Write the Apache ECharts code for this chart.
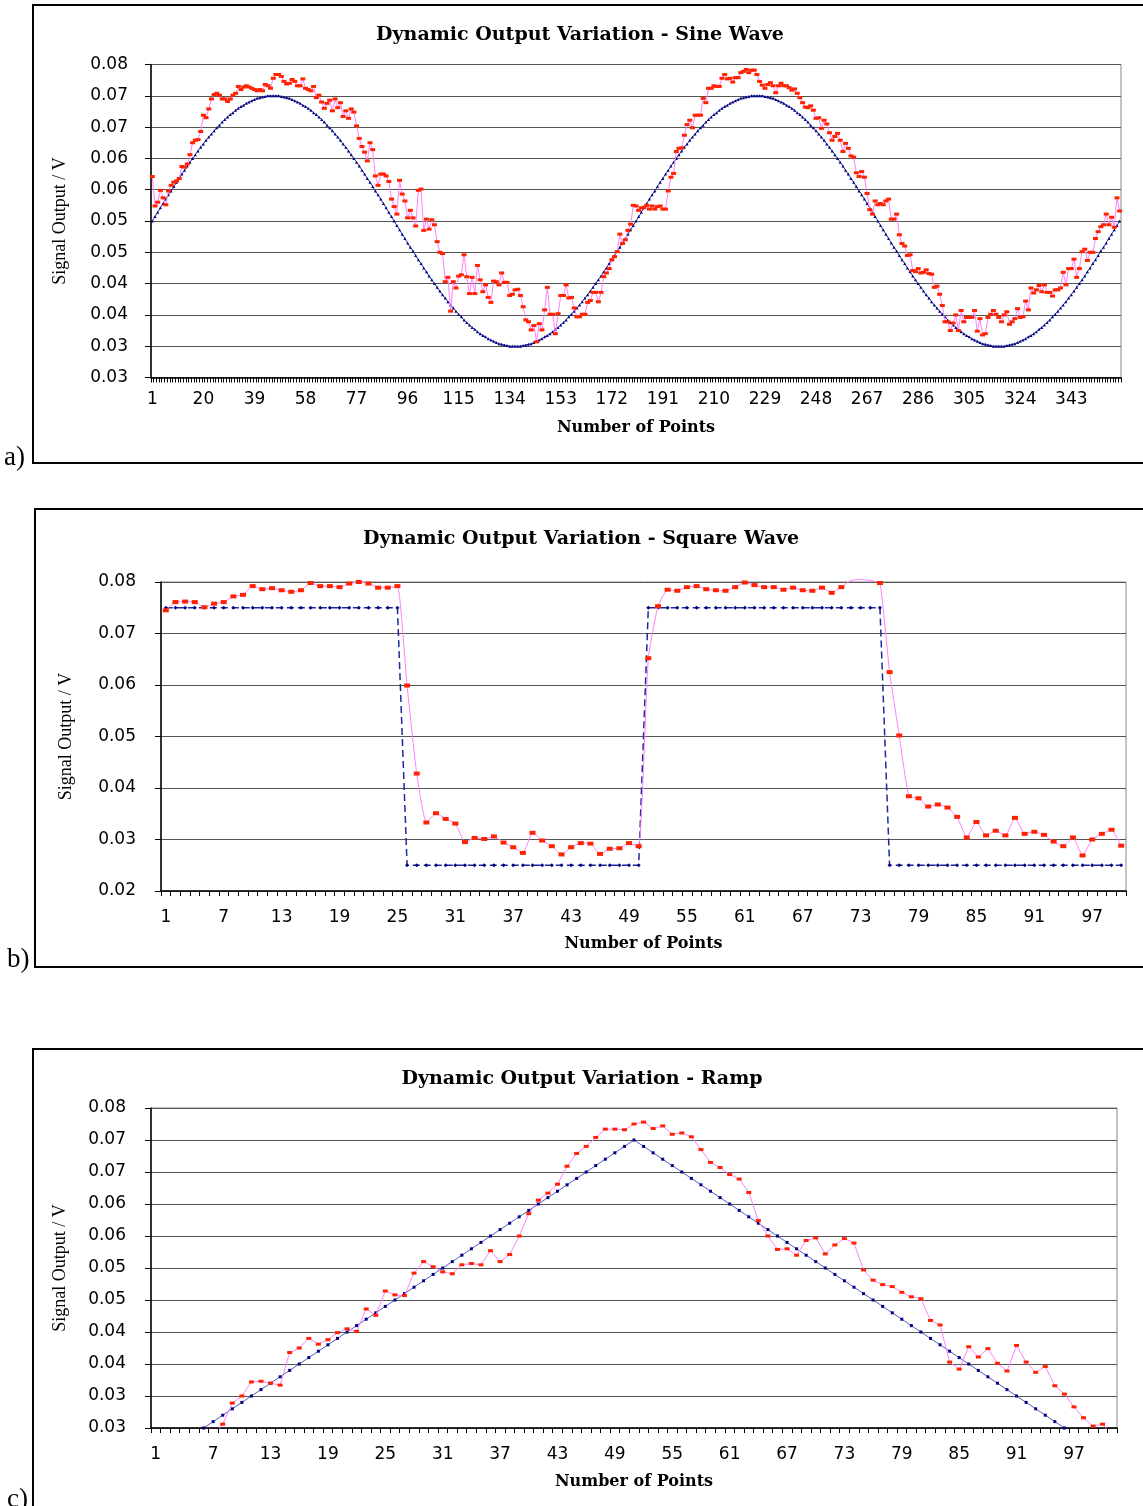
<!DOCTYPE html>
<html><head><meta charset="utf-8">
<script src="https://cdn.jsdelivr.net/npm/echarts@6/dist/echarts.min.js"></script>
<style>html,body{margin:0;padding:0;background:#fff}#c{width:1143px;height:1506px}</style>
</head><body><div id="c"></div>
<script>
// ---------- Chart a: sine wave (361 points) ----------
const sineReference = [
0.0500,0.0507,0.0514,0.0521,0.0528,0.0535,0.0542,0.0548,0.0555,0.0562,
0.0568,0.0575,0.0581,0.0588,0.0594,0.0600,0.0606,0.0612,0.0618,0.0623,
0.0629,0.0634,0.0639,0.0644,0.0649,0.0653,0.0658,0.0662,0.0666,0.0670,
0.0673,0.0677,0.0680,0.0683,0.0685,0.0688,0.0690,0.0692,0.0694,0.0696,
0.0697,0.0698,0.0699,0.0700,0.0700,0.0700,
0.0700,0.0700,0.0699,0.0698,0.0697,0.0696,0.0694,0.0692,0.0690,0.0688,
0.0685,0.0683,0.0680,0.0677,0.0673,0.0670,0.0666,0.0662,0.0658,0.0653,
0.0649,0.0644,0.0639,0.0634,0.0629,0.0623,0.0618,0.0612,0.0606,0.0600,
0.0594,0.0588,0.0581,0.0575,0.0568,0.0562,0.0555,0.0548,0.0542,0.0535,
0.0528,0.0521,0.0514,0.0507,
0.0500,0.0493,0.0486,0.0479,0.0472,0.0465,0.0458,0.0452,0.0445,0.0438,
0.0432,0.0425,0.0419,0.0412,0.0406,0.0400,0.0394,0.0388,0.0382,0.0377,
0.0371,0.0366,0.0361,0.0356,0.0351,0.0347,0.0342,0.0338,0.0334,0.0330,
0.0327,0.0323,0.0320,0.0317,0.0315,0.0312,0.0310,0.0308,0.0306,0.0304,
0.0303,0.0302,0.0301,0.0300,0.0300,0.0300,
0.0300,0.0300,0.0301,0.0302,0.0303,0.0304,0.0306,0.0308,0.0310,0.0312,
0.0315,0.0317,0.0320,0.0323,0.0327,0.0330,0.0334,0.0338,0.0342,0.0347,
0.0351,0.0356,0.0361,0.0366,0.0371,0.0377,0.0382,0.0388,0.0394,0.0400,
0.0406,0.0412,0.0419,0.0425,0.0432,0.0438,0.0445,0.0452,0.0458,0.0465,
0.0472,0.0479,0.0486,0.0493,
0.0500,0.0507,0.0514,0.0521,0.0528,0.0535,0.0542,0.0548,0.0555,0.0562,
0.0568,0.0575,0.0581,0.0588,0.0594,0.0600,0.0606,0.0612,0.0618,0.0623,
0.0629,0.0634,0.0639,0.0644,0.0649,0.0653,0.0658,0.0662,0.0666,0.0670,
0.0673,0.0677,0.0680,0.0683,0.0685,0.0688,0.0690,0.0692,0.0694,0.0696,
0.0697,0.0698,0.0699,0.0700,0.0700,0.0700,
0.0700,0.0700,0.0699,0.0698,0.0697,0.0696,0.0694,0.0692,0.0690,0.0688,
0.0685,0.0683,0.0680,0.0677,0.0673,0.0670,0.0666,0.0662,0.0658,0.0653,
0.0649,0.0644,0.0639,0.0634,0.0629,0.0623,0.0618,0.0612,0.0606,0.0600,
0.0594,0.0588,0.0581,0.0575,0.0568,0.0562,0.0555,0.0548,0.0542,0.0535,
0.0528,0.0521,0.0514,0.0507,
0.0500,0.0493,0.0486,0.0479,0.0472,0.0465,0.0458,0.0452,0.0445,0.0438,
0.0432,0.0425,0.0419,0.0412,0.0406,0.0400,0.0394,0.0388,0.0382,0.0377,
0.0371,0.0366,0.0361,0.0356,0.0351,0.0347,0.0342,0.0338,0.0334,0.0330,
0.0327,0.0323,0.0320,0.0317,0.0315,0.0312,0.0310,0.0308,0.0306,0.0304,
0.0303,0.0302,0.0301,0.0300,0.0300,0.0300,
0.0300,0.0300,0.0301,0.0302,0.0303,0.0304,0.0306,0.0308,0.0310,0.0312,
0.0315,0.0317,0.0320,0.0323,0.0327,0.0330,0.0334,0.0338,0.0342,0.0347,
0.0351,0.0356,0.0361,0.0366,0.0371,0.0377,0.0382,0.0388,0.0394,0.0400,
0.0406,0.0412,0.0419,0.0425,0.0432,0.0438,0.0445,0.0452,0.0458,0.0465,
0.0472,0.0479,0.0486,0.0493,
0.0500
];
const sineMeasured = [
0.0571,0.0524,0.0530,0.0549,0.0537,0.0526,0.0548,0.0557,0.0562,0.0564,
0.0568,0.0587,0.0586,0.0591,0.0606,0.0625,0.0629,0.0630,0.0643,0.0669,
0.0665,0.0679,0.0695,0.0702,0.0704,0.0701,0.0695,0.0695,0.0691,0.0695,
0.0701,0.0704,0.0715,0.0710,0.0714,0.0716,0.0714,0.0712,0.0710,0.0708,
0.0710,0.0708,0.0718,0.0716,0.0712,0.0728,0.0734,0.0734,0.0731,0.0723,
0.0719,0.0720,0.0726,0.0723,0.0716,0.0716,0.0727,0.0712,0.0710,0.0708,
0.0715,0.0697,0.0701,0.0690,0.0680,0.0688,0.0693,0.0676,0.0695,0.0681,
0.0689,0.0667,0.0676,0.0664,0.0679,0.0674,0.0652,0.0632,0.0619,0.0610,
0.0596,0.0625,0.0614,0.0572,0.0557,0.0575,0.0575,0.0572,0.0563,0.0535,
0.0523,0.0511,0.0565,0.0543,0.0532,0.0505,0.0517,0.0505,0.0492,0.0549,
0.0551,0.0485,0.0503,0.0487,0.0502,0.0494,0.0467,0.0450,0.0448,0.0403,
0.0410,0.0356,0.0403,0.0393,0.0412,0.0414,0.0446,0.0411,0.0384,0.0410,
0.0384,0.0429,0.0406,0.0387,0.0398,0.0378,0.0370,0.0404,0.0403,0.0398,
0.0417,0.0402,0.0402,0.0381,0.0383,0.0390,0.0391,0.0381,0.0363,0.0342,
0.0339,0.0326,0.0333,0.0307,0.0336,0.0326,0.0358,0.0394,0.0351,0.0351,
0.0320,0.0352,0.0381,0.0381,0.0398,0.0377,0.0378,0.0361,0.0347,0.0347,
0.0351,0.0351,0.0370,0.0373,0.0386,0.0386,0.0371,0.0386,0.0411,0.0417,
0.0424,0.0438,0.0443,0.0451,0.0479,0.0464,0.0470,0.0485,0.0495,0.0525,
0.0524,0.0517,0.0521,0.0522,0.0525,0.0519,0.0524,0.0519,0.0523,0.0524,
0.0519,0.0519,0.0548,0.0570,0.0576,0.0611,0.0616,0.0617,0.0637,0.0654,
0.0661,0.0649,0.0669,0.0669,0.0669,0.0696,0.0689,0.0712,0.0712,0.0716,
0.0715,0.0715,0.0728,0.0734,0.0727,0.0728,0.0722,0.0729,0.0729,0.0737,
0.0739,0.0742,0.0737,0.0741,0.0741,0.0734,0.0723,0.0717,0.0712,0.0718,
0.0721,0.0716,0.0705,0.0716,0.0720,0.0716,0.0716,0.0713,0.0709,0.0711,
0.0704,0.0697,0.0689,0.0682,0.0681,0.0684,
0.0677,0.0664,0.0665,0.0648,0.0661,0.0655,0.0641,0.0629,0.0635,0.0640,
0.0629,0.0611,0.0624,0.0616,0.0604,0.0602,0.0577,0.0571,0.0579,0.0570,
0.0544,0.0518,0.0511,0.0532,0.0526,0.0528,0.0526,0.0532,0.0535,0.0503,
0.0503,0.0511,0.0478,0.0464,0.0460,0.0445,0.0446,0.0421,0.0419,0.0424,
0.0417,0.0418,0.0422,0.0416,0.0415,0.0394,0.0396,0.0383,0.0365,0.0339,
0.0339,0.0325,0.0337,0.0350,0.0325,0.0357,0.0339,0.0346,0.0346,0.0346,
0.0357,0.0324,0.0344,0.0318,0.0320,0.0346,0.0351,0.0357,0.0351,0.0346,
0.0339,0.0350,0.0355,0.0335,0.0339,0.0344,0.0360,0.0346,0.0347,0.0372,
0.0358,0.0393,0.0385,0.0390,0.0397,0.0387,0.0398,0.0386,0.0386,0.0380,
0.0390,0.0390,0.0393,0.0418,0.0398,0.0424,0.0424,0.0439,0.0410,0.0424,
0.0451,0.0455,0.0437,0.0450,0.0450,0.0472,0.0483,0.0491,0.0494,0.0511,
0.0494,0.0506,0.0490,0.0537,0.0516
];

// ---------- Chart b: square wave (100 points) ----------
const squareReference = [
0.075,0.075,0.075,0.075,0.075,0.075,0.075,0.075,0.075,0.075,
0.075,0.075,0.075,0.075,0.075,0.075,0.075,0.075,0.075,0.075,
0.075,0.075,0.075,0.075,0.075,
0.025,0.025,0.025,0.025,0.025,0.025,0.025,0.025,0.025,0.025,
0.025,0.025,0.025,0.025,0.025,0.025,0.025,0.025,0.025,0.025,
0.025,0.025,0.025,0.025,0.025,
0.075,0.075,0.075,0.075,0.075,0.075,0.075,0.075,0.075,0.075,
0.075,0.075,0.075,0.075,0.075,0.075,0.075,0.075,0.075,0.075,
0.075,0.075,0.075,0.075,0.075,
0.025,0.025,0.025,0.025,0.025,0.025,0.025,0.025,0.025,0.025,
0.025,0.025,0.025,0.025,0.025,0.025,0.025,0.025,0.025,0.025,
0.025,0.025,0.025,0.025,0.025
];
const squareMeasured = [
0.0745,0.0761,0.0762,0.0761,0.0751,0.0758,0.0761,0.0772,0.0775,0.0792,
0.0786,0.0788,0.0784,0.0781,0.0784,0.0798,0.0792,0.0792,0.0790,0.0797,
0.0800,0.0797,0.0789,0.0789,0.0792,0.0599,0.0428,0.0333,0.0351,0.0340,
0.0331,0.0295,0.0303,0.0301,0.0306,0.0294,0.0285,0.0274,0.0313,0.0298,
0.0287,0.0271,0.0285,0.0293,0.0292,0.0272,0.0282,0.0283,0.0293,0.0287,
0.0652,0.0753,0.0785,0.0783,0.0790,0.0792,0.0786,0.0784,0.0783,0.0790,
0.0799,0.0794,0.0790,0.0790,0.0785,0.0789,0.0784,0.0783,0.0789,0.0779,
0.0790,0.0803,0.0805,0.0803,0.0798,0.0625,0.0502,0.0384,0.0380,0.0364,
0.0368,0.0362,0.0344,0.0304,0.0334,0.0308,0.0317,0.0308,0.0342,0.0311,
0.0315,0.0309,0.0296,0.0287,0.0304,0.0269,0.0300,0.0311,0.0319,0.0288
];

// ---------- Chart c: ramp (101 points) ----------
const rampReference = [
0.020,0.021,0.022,0.023,0.024,0.025,0.026,0.027,0.028,0.029,
0.030,0.031,0.032,0.033,0.034,0.035,0.036,0.037,0.038,0.039,
0.040,0.041,0.042,0.043,0.044,0.045,0.046,0.047,0.048,0.049,
0.050,0.051,0.052,0.053,0.054,0.055,0.056,0.057,0.058,0.059,
0.060,0.061,0.062,0.063,0.064,0.065,0.066,0.067,0.068,0.069,
0.070,
0.069,0.068,0.067,0.066,0.065,0.064,0.063,0.062,0.061,0.060,
0.059,0.058,0.057,0.056,0.055,0.054,0.053,0.052,0.051,0.050,
0.049,0.048,0.047,0.046,0.045,0.044,0.043,0.042,0.041,0.040,
0.039,0.038,0.037,0.036,0.035,0.034,0.033,0.032,0.031,0.030,
0.029,0.028,0.027,0.026,0.025,0.024,0.023,0.022,0.021,0.020
];
const rampMeasured = [
0.0205,0.0212,0.0215,0.0222,0.0230,0.0236,0.0238,
0.0256,0.0289,0.0300,0.0322,0.0323,0.0320,0.0317,0.0368,0.0375,0.0390,
0.0381,0.0388,0.0399,0.0405,0.0401,0.0436,0.0426,0.0464,0.0458,0.0457,
0.0492,0.0510,0.0502,0.0494,0.0491,0.0505,0.0507,0.0505,0.0527,0.0510,
0.0521,0.0550,0.0585,0.0606,0.0617,0.0631,0.0659,0.0679,0.0690,0.0704,
0.0717,0.0717,0.0716,0.0725,0.0728,0.0718,0.0722,0.0709,0.0711,0.0705,
0.0685,0.0665,0.0657,0.0646,0.0639,0.0618,0.0574,0.0550,0.0529,0.0530,
0.0520,0.0543,0.0547,0.0522,0.0536,0.0546,0.0539,0.0497,0.0481,0.0474,
0.0471,0.0462,0.0455,0.0452,0.0418,0.0411,0.0353,0.0342,0.0377,0.0361,
0.0374,0.0351,0.0339,0.0379,0.0353,0.0337,0.0346,0.0316,0.0303,0.0283,
0.0266,0.0253,0.0256,0.0238
];

// ---------- tick labels and texts ----------
const yTickLabelsSineRamp = ['0.03','0.03','0.04','0.04','0.05','0.05','0.06','0.06','0.07','0.07','0.08'];
const yTickLabelsSquare = ['0.02','0.03','0.04','0.05','0.06','0.07','0.08'];
const titles = ['Dynamic Output Variation - Sine Wave','Dynamic Output Variation - Square Wave','Dynamic Output Variation - Ramp'];
const panelLetters = ['a)','b)','c)'];

const pointNumbers = n => { const a = []; for (let i = 1; i <= n; i++) a.push(String(i)); return a; };
const sineCategories = pointNumbers(sineMeasured.length);
const squareCategories = pointNumbers(squareMeasured.length);
const rampCategories = pointNumbers(rampMeasured.length);

const chart = echarts.init(document.getElementById('c'), null, {renderer: 'canvas'});

const TICK_FONT = 'DejaVu Sans';
function xAxisCfg(gi, data, interval, margin, nameGap) {
  return {
    gridIndex: gi, type: 'category', data: data, boundaryGap: true,
    axisLine: {show: true, lineStyle: {color: '#000', width: 1.5}},
    axisTick: {show: true, interval: 0, length: 5, lineStyle: {color: '#000', width: 1}},
    axisLabel: {interval: interval, margin: margin, fontFamily: TICK_FONT, fontSize: 17, color: '#000'},
    splitLine: {show: false},
    name: 'Number of Points', nameLocation: 'middle', nameGap: nameGap,
    nameTextStyle: {fontFamily: 'DejaVu Serif', fontWeight: 'bold', fontSize: 16, color: '#000'}
  };
}
function yAxisCfg(gi, min, max, interval, labels, margin, nameGap) {
  return {
    gridIndex: gi, type: 'value', min: min, max: max, interval: interval,
    axisLine: {show: true, lineStyle: {color: '#000', width: 1.5}},
    axisTick: {show: true, length: 6, lineStyle: {color: '#000', width: 1}},
    axisLabel: {margin: margin, fontFamily: TICK_FONT, fontSize: 17, color: '#000',
      formatter: function (v) { return labels[Math.round((v - min) / interval)]; }},
    splitLine: {show: true, lineStyle: {color: '#555', width: 1}},
    name: 'Signal Output / V', nameLocation: 'middle', nameGap: nameGap,
    nameTextStyle: {fontFamily: 'Liberation Serif', fontSize: 18, color: '#000'}
  };
}
const gridBase = {show: true, borderColor: '#888', borderWidth: 1, backgroundColor: 'transparent', containLabel: false};
const titleStyle = {fontFamily: 'DejaVu Serif', fontWeight: 'bold', fontSize: 19, color: '#000'};
const redSize = (sz) => function (v) { return v > 0.08 ? 0 : sz; };

const option = {
  animation: false,
  backgroundColor: '#fff',
  title: [
    {text: titles[0], left: 580, top: 26, textAlign: 'center', padding: 0, textStyle: titleStyle},
    {text: titles[1], left: 581, top: 530, textAlign: 'center', padding: 0, textStyle: titleStyle},
    {text: titles[2], left: 582, top: 1070, textAlign: 'center', padding: 0, textStyle: titleStyle}
  ],
  grid: [
    Object.assign({left: 151, top: 64.5, width: 970, height: 313}, gridBase),
    Object.assign({left: 161, top: 582, width: 965, height: 309}, gridBase),
    Object.assign({left: 151, top: 1108, width: 966, height: 320}, gridBase)
  ],
  xAxis: [
    xAxisCfg(0, sineCategories, 18, 14, 42),
    xAxisCfg(1, squareCategories, 5, 18, 45),
    xAxisCfg(2, rampCategories, 5, 18, 46)
  ],
  yAxis: [
    yAxisCfg(0, 0.025, 0.075, 0.005, yTickLabelsSineRamp, 23, 82),
    yAxisCfg(1, 0.02, 0.08, 0.01, yTickLabelsSquare, 25, 86),
    yAxisCfg(2, 0.025, 0.075, 0.005, yTickLabelsSineRamp, 25, 82)
  ],
  series: [
    {type: 'line', xAxisIndex: 0, yAxisIndex: 0, data: sineReference, showAllSymbol: true,
     symbol: 'triangle', symbolSize: 3, itemStyle: {color: '#000080'},
     lineStyle: {color: '#2a3aa0', width: 1}, z: 2},
    {type: 'line', xAxisIndex: 0, yAxisIndex: 0, data: sineMeasured, showAllSymbol: true,
     symbol: 'rect', symbolSize: [5, 3], itemStyle: {color: '#ff2200'},
     lineStyle: {color: '#ff80ff', width: 1}, z: 3},
    {type: 'line', xAxisIndex: 1, yAxisIndex: 1, data: squareReference, showAllSymbol: true,
     symbol: 'diamond', symbolSize: 4, itemStyle: {color: '#000080'},
     lineStyle: {color: '#1a2a9a', width: 1.5, type: [7, 4]}, z: 2},
    {type: 'line', xAxisIndex: 1, yAxisIndex: 1, data: squareMeasured, showAllSymbol: true, clip: false,
     smooth: 0.15,
     symbol: 'rect', symbolSize: redSize([6, 4]), itemStyle: {color: '#ff2200'},
     lineStyle: {color: '#ff80ff', width: 1}, z: 3},
    {type: 'line', xAxisIndex: 2, yAxisIndex: 2, data: rampReference, showAllSymbol: true,
     symbol: 'rect', symbolSize: 3, itemStyle: {color: '#000080'},
     lineStyle: {color: '#5060c0', width: 1}, z: 2},
    {type: 'line', xAxisIndex: 2, yAxisIndex: 2, data: rampMeasured, showAllSymbol: true,
     symbol: 'rect', symbolSize: [5, 3], itemStyle: {color: '#ff2200'},
     lineStyle: {color: '#ff80ff', width: 1}, z: 3}
  ],
  graphic: [
    {type: 'rect', shape: {x: 33, y: 5, width: 1200, height: 458}, style: {fill: 'none', stroke: '#000', lineWidth: 2}, silent: true},
    {type: 'rect', shape: {x: 35, y: 509, width: 1200, height: 458}, style: {fill: 'none', stroke: '#000', lineWidth: 2}, silent: true},
    {type: 'rect', shape: {x: 33, y: 1049, width: 1200, height: 600}, style: {fill: 'none', stroke: '#000', lineWidth: 2}, silent: true},
    {type: 'text', x: 4, y: 458, style: {text: panelLetters[0], font: '27px "Liberation Serif"', fill: '#000', verticalAlign: 'middle'}, silent: true},
    {type: 'text', x: 7, y: 960, style: {text: panelLetters[1], font: '27px "Liberation Serif"', fill: '#000', verticalAlign: 'middle'}, silent: true},
    {type: 'text', x: 7, y: 1500, style: {text: panelLetters[2], font: '27px "Liberation Serif"', fill: '#000', verticalAlign: 'middle'}, silent: true}
  ]
};
chart.setOption(option);
</script>
</body></html>
